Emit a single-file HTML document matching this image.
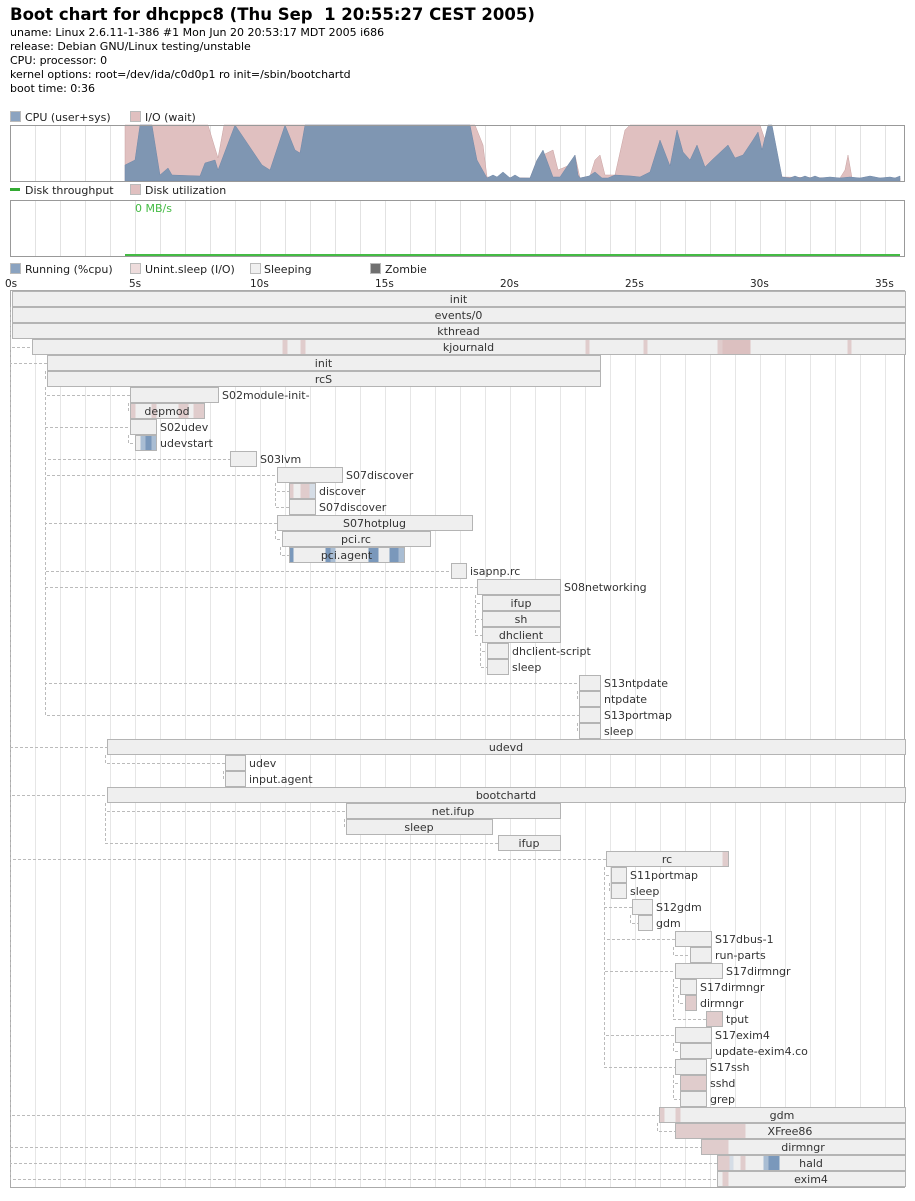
<!DOCTYPE html>
<html><head><meta charset="utf-8">
<style>
body{margin:0;background:#fff;width:915px;height:1196px;overflow:hidden;font-family:"Liberation Sans","DejaVu Sans",sans-serif;}
svg text{font-family:"DejaVu Sans","Liberation Sans",sans-serif;}
</style></head><body>
<svg id="s" width="915" height="1196" xmlns="http://www.w3.org/2000/svg">
<text x="10" y="20" font-size="16.5" font-weight="bold" fill="#000">Boot chart for dhcppc8 (Thu Sep &#160;1 20:55:27 CEST 2005)</text>
<g font-size="11" fill="#000">
<text x="10" y="36">uname: Linux 2.6.11-1-386 #1 Mon Jun 20 20:53:17 MDT 2005 i686</text>
<text x="10" y="50">release: Debian GNU/Linux testing/unstable</text>
<text x="10" y="64">CPU: processor: 0</text>
<text x="10" y="78">kernel options: root=/dev/ida/c0d0p1 ro init=/sbin/bootchartd</text>
<text x="10" y="92">boot time: 0:36</text>
</g>
<g font-size="11" fill="#222">
<rect x="10.5" y="111.5" width="10" height="10" fill="#8ba3c0" stroke="#bbb"/><text x="25" y="121">CPU (user+sys)</text>
<rect x="130.5" y="111.5" width="10" height="10" fill="#e0c0c0" stroke="#bbb"/><text x="145" y="121">I/O (wait)</text>
<rect x="10" y="188" width="10" height="3" fill="#33aa33"/><text x="25" y="194">Disk throughput</text>
<rect x="130.5" y="184.5" width="10" height="10" fill="#e0c0c0" stroke="#bbb"/><text x="145" y="194">Disk utilization</text>
<rect x="10.5" y="263.5" width="10" height="10" fill="#8ba3c0" stroke="#bbb"/><text x="25" y="273">Running (%cpu)</text>
<rect x="130.5" y="263.5" width="10" height="10" fill="#eedcdc" stroke="#bbb"/><text x="145" y="273">Unint.sleep (I/O)</text>
<rect x="250.5" y="263.5" width="10" height="10" fill="#f0f0f0" stroke="#bbb"/><text x="264" y="273">Sleeping</text>
<rect x="370.5" y="263.5" width="10" height="10" fill="#707070" stroke="#bbb"/><text x="385" y="273">Zombie</text>
</g>
<g id="grid"></g>
<polygon fill="#e0c0c0" stroke="#c8a0a0" stroke-width="0.5" points="125,181 125,125 208,125 218,158 224,125 475,125 483,145 487,177 530,178 537,160 543,155 553,150 558,170 570,165 575,155 580,178 590,176 595,160 600,155 605,175 615,175 625,130 630,125 760,125 765,140 770,125 782,177 840,178 845,170 848,155 852,178 900,178 900,181"/>
<polygon fill="#7f96b2" stroke="#7088a8" stroke-width="0.5" points="125,181 125,165 135,160 140,125 152,125 160,175 168,168 172,175 200,176 205,163 215,160 218,170 235,125 262,165 270,170 285,125 295,150 300,153 305,125 470,125 477,160 487,178 493,175 497,177 503,172 510,178 515,175 520,178 530,178 537,160 543,150 553,177 560,177 568,165 575,155 578,175 580,178 589,176 595,172 602,178 608,178 615,175 631,176 640,177 650,172 660,140 670,166 677,130 683,152 690,160 697,145 705,167 712,160 728,145 735,158 743,155 753,140 758,132 762,150 768,125 772,125 782,177 790,178 795,176 800,178 805,176 810,178 815,176 820,178 830,177 840,178 850,177 860,178 870,176 880,178 890,177 895,178 900,176 900,181"/>
<rect x="10.5" y="125.5" width="894" height="56" fill="none" stroke="#999"/>
<rect x="10.5" y="200.5" width="894" height="56" fill="none" stroke="#999"/>
<line x1="125" y1="255" x2="900" y2="255" stroke="#44bb44" stroke-width="2"/>
<text x="135" y="212" font-size="11" fill="#44bb44">0 MB/s</text>
<g font-size="10.5" fill="#222">
<text x="5" y="287">0s</text><text x="129" y="287">5s</text><text x="250" y="287">10s</text><text x="375" y="287">15s</text><text x="500" y="287">20s</text><text x="625" y="287">25s</text><text x="750" y="287">30s</text><text x="875" y="287">35s</text>
</g>
<rect x="10.5" y="290.5" width="894" height="897" fill="none" stroke="#aaa"/>
<g id="conn"></g>
<g id="rows"></g>
</svg>
<script>
var NS="http://www.w3.org/2000/svg";
function el(p,t,a,txt){var e=document.createElementNS(NS,t);for(var k in a)e.setAttribute(k,a[k]);if(txt!==undefined)e.textContent=txt;p.appendChild(e);return e;}
var g=document.getElementById("grid");
for(var x=10;x<=905;x+=25){
 el(g,"line",{x1:x+.5,y1:126,x2:x+.5,y2:181,stroke:"#e2e2e2"});
 el(g,"line",{x1:x+.5,y1:201,x2:x+.5,y2:256,stroke:"#e2e2e2"});
 el(g,"line",{x1:x+.5,y1:291,x2:x+.5,y2:1187,stroke:"#e6e6e6"});
}
var P="#e0cccc",B="#7a98bb",L="#a9bdd3",G="#d5dde6";
var R=[
["init",12,905,"c",0,[]],
["events/0",12,905,"c",1,[]],
["kthread",12,905,"c",2,[]],
["kjournald",32,905,"c",3,[[282,287,P],[300,305,P],[585,589,P],[643,647,P],[717,722,P],[722,750,"#dcc0c0"],[847,851,P]]],
["init",47,600,"c",1,[]],
["rcS",47,600,"c",5,[]],
["S02module-init-",130,218,"r",6,[]],
["depmod",130,204,"c",7,[[130,135,P],[151,156,P],[178,188,P],[193,204,P]]],
["S02udev",130,156,"r",6,[]],
["udevstart",135,156,"r",9,[[140,145,L],[145,151,B],[151,156,L]]],
["S03lvm",230,256,"r",6,[]],
["S07discover",277,342,"r",6,[]],
["discover",289,315,"r",12,[[289,293,P],[300,309,P],[309,315,G]]],
["S07discover",289,315,"r",12,[]],
["S07hotplug",277,472,"c",6,[]],
["pci.rc",282,430,"c",15,[]],
["pci.agent",289,404,"c",16,[[289,293,B],[325,330,B],[330,335,L],[368,378,B],[389,398,B],[398,404,L]]],
["isapnp.rc",451,466,"r",6,[]],
["S08networking",477,560,"r",6,[]],
["ifup",482,560,"c",19,[]],
["sh",482,560,"c",19,[]],
["dhclient",482,560,"c",19,[]],
["dhclient-script",487,508,"r",22,[]],
["sleep",487,508,"r",22,[]],
["S13ntpdate",579,600,"r",6,[]],
["ntpdate",579,600,"r",25,[]],
["S13portmap",579,600,"r",6,[]],
["sleep",579,600,"r",27,[]],
["udevd",107,905,"c",1,[]],
["udev",225,245,"r",29,[]],
["input.agent",225,245,"r",30,[]],
["bootchartd",107,905,"c",1,[]],
["net.ifup",346,560,"c",32,[]],
["sleep",346,492,"c",33,[]],
["ifup",498,560,"c",32,[]],
["rc",606,728,"c",1,[[722,728,P]]],
["S11portmap",611,626,"r",36,[]],
["sleep",611,626,"r",37,[]],
["S12gdm",632,652,"r",36,[]],
["gdm",638,652,"r",39,[]],
["S17dbus-1",675,711,"r",36,[]],
["run-parts",690,711,"r",41,[]],
["S17dirmngr",675,722,"r",36,[]],
["S17dirmngr",680,696,"r",43,[]],
["dirmngr",685,696,"r",44,[[685,696,P]]],
["tput",706,722,"r",43,[[706,722,P]]],
["S17exim4",675,711,"r",36,[]],
["update-exim4.co",680,711,"r",47,[]],
["S17ssh",675,706,"r",36,[]],
["sshd",680,706,"r",49,[[680,706,P]]],
["grep",680,706,"r",49,[]],
["gdm",659,905,"c",1,[[659,664,P],[675,680,P]]],
["XFree86",675,905,"c",52,[[675,745,P]]],
["dirmngr",701,905,"c",1,[[701,728,P]]],
["hald",717,905,"c",1,[[717,729,P],[729,733,G],[740,745,P],[763,768,L],[768,779,B]]],
["exim4",717,905,"c",1,[[722,728,P]]]
];
var rows=document.getElementById("rows"),conn=document.getElementById("conn");
R.forEach(function(r,i){
 var y=291+i*16;
 if(r[4]>0){var p=R[r[4]-1],py=291+(r[4]-1)*16,px=Math.max(p[1]-2,7);
  var my=y+8.5;
  el(conn,"path",{d:"M"+(px+.5)+" "+(py+16)+" V"+my+" H"+r[1],fill:"none",stroke:"#bbb","stroke-dasharray":"3,2"});}
 el(rows,"rect",{x:r[1]+.5,y:y+.5,width:r[2]-r[1],height:15,fill:"#efefef"});
 r[5].forEach(function(s){el(rows,"rect",{x:s[0]+.5,y:y+1,width:s[1]-s[0],height:14.5,fill:s[2]});});
 el(rows,"rect",{x:r[1]+.5,y:y+.5,width:r[2]-r[1],height:15,fill:"none",stroke:"#b4b4b4"});
 if(r[3]=="c")el(rows,"text",{x:(r[1]+r[2])/2,y:y+12,"font-size":"11","text-anchor":"middle",fill:"#333"},r[0]);
 else el(rows,"text",{x:r[2]+4,y:y+12,"font-size":"11",fill:"#333"},r[0]);
});
</script>
</body></html>
